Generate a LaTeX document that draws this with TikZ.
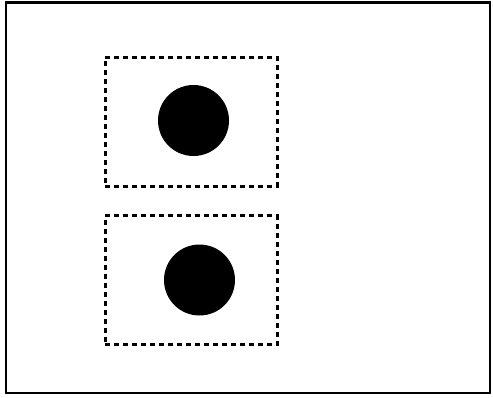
\documentclass[tikz,border=0pt]{standalone}
\begin{document}
\begin{tikzpicture}[x=1pt,y=-1pt,
  frame/.style={draw=black,line width=2.8pt},
  dashbox/.style={draw=black,line width=3pt,dash pattern=on 5pt off 4pt},
  dot/.style={fill=black}]
\useasboundingbox (0,0) rectangle (493,397);
\fill[white] (0,0) rectangle (493,397);
\draw[frame] (6,2.5) rectangle (490,393);
\node[dashbox,minimum width=172pt,minimum height=129pt,inner sep=0pt] (b1) at (191,121.5) {};
\node[dashbox,minimum width=172pt,minimum height=129pt,inner sep=0pt] (b2) at (191,280) {};
\node[dot,circle,minimum size=71pt,inner sep=0pt] (c1) at (193.5,120.5) {};
\node[dot,circle,minimum size=71pt,inner sep=0pt] (c2) at (199.5,280) {};
\end{tikzpicture}
\end{document}
